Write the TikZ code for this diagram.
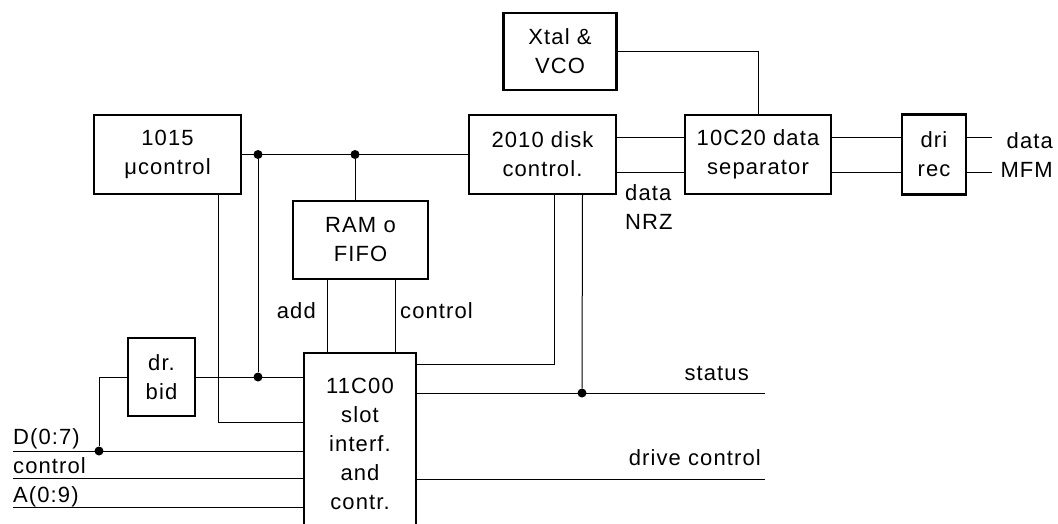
\documentclass[tikz,border=0pt]{standalone}
\usepackage{fontspec}
\setmainfont{Liberation Sans}[LetterSpace=5]
\usetikzlibrary{positioning}

\begin{document}
\begin{tikzpicture}[
    x=1pt, y=-1pt,
    every node/.style={font=\fontsize{22}{29}\selectfont, align=center},
    chip_box/.style={draw, line width=2.2pt, inner sep=0pt, outer sep=0pt},
    wire/.style={line width=1pt},
    bus_dot/.style={circle, fill, inner sep=0pt, minimum size=9pt},
    pin_lbl/.style={inner sep=0pt}
]
  \useasboundingbox (0,0) rectangle (1058,523);
  \clip (0,0) rectangle (1058,523);

  % Chips
  \node[chip_box, minimum width=147pt, minimum height=79pt] (ucontrol) at (167.5,154.5) {1015\\μcontrol};
  \node[chip_box, minimum width=147pt, minimum height=79pt, right=228pt of ucontrol] (diskctl) {2010 disk\\control.};
  \node[chip_box, minimum width=113pt, minimum height=77pt, above=25pt of diskctl, xshift=17.5pt] (xtal) {Xtal \&\\VCO};
  \node[chip_box, minimum width=146pt, minimum height=79pt, right=69pt of diskctl] (separator) {10C20 data\\separator};
  \node[chip_box, minimum width=64pt, minimum height=80pt, right=71pt of separator] (drirec) {dri\\rec};
  \node[chip_box, minimum width=135pt, minimum height=78pt] (ramfifo) at (360.5,240) {RAM o\\FIFO};
  \node[chip_box, minimum width=112pt, minimum height=181pt, below=74pt of ramfifo, xshift=-0.5pt] (slot) {11C00\\slot\\interf.\\and\\contr.};
  \node[chip_box, minimum width=67pt, minimum height=78pt] (drbid) at (161.5,377) {dr.\\bid};

  % Junctions and free ends
  \node[bus_dot] (j1) at (258,154.5) {};
  \node[bus_dot] (j2) at (355,154.5) {};
  \node[bus_dot] (j3) at (258,377) {};
  \node[bus_dot] (j4) at (99,451) {};
  \node[bus_dot] (j5) at (582,393) {};
  \coordinate (dIn) at (13,451);
  \coordinate (ctlIn) at (13,478);
  \coordinate (aIn) at (13,507);
  \coordinate (statOut) at (765,393);
  \coordinate (drvOut) at (765,479);
  \coordinate (dataOut) at (992,137);
  \coordinate (mfmOut) at (992,172);

  % Wires
  \draw[wire] (ucontrol) -- (diskctl);
  \draw[wire] (j2) -- (j2 |- ramfifo.north);
  \draw[wire] (j1) -- (j3);
  \draw[wire] (drbid) -- (drbid -| slot.west);
  \draw[wire] (drbid.west) -| (j4);
  \draw[wire] (dIn) -- (dIn -| slot.west);
  \draw[wire] (ctlIn) -- (ctlIn -| slot.west);
  \draw[wire] (aIn) -- (aIn -| slot.west);
  \draw[wire] ([xshift=50.5pt]ucontrol.south) |- ([yshift=21.5pt]slot.west);
  \draw[wire] ([xshift=-33.5pt]ramfifo.south) -- ([xshift=-33.5pt]ramfifo.south |- slot.north);
  \draw[wire] ([xshift=34.5pt]ramfifo.south) -- ([xshift=34.5pt]ramfifo.south |- slot.north);
  \draw[wire] ([xshift=12pt]diskctl.south) |- ([yshift=79.5pt]slot.east);
  \draw[wire] ([xshift=40pt]diskctl.south) -- (j5);
  \draw[wire] (j5 -| slot.east) -- (statOut);
  \draw[wire] (drvOut -| slot.east) -- (drvOut);
  \draw[wire] ([yshift=17.5pt]diskctl.east) -- ([yshift=17.5pt]separator.west);
  \draw[wire] ([yshift=-17.5pt]diskctl.east) -- ([yshift=-17.5pt]separator.west);
  \draw[wire] ([yshift=17.5pt]separator.east) -- ([yshift=17.5pt]drirec.west);
  \draw[wire] ([yshift=-17.5pt]separator.east) -- ([yshift=-17.5pt]drirec.west);
  \draw[wire] ([yshift=17.5pt]drirec.east) -- (dataOut);
  \draw[wire] ([yshift=-17.5pt]drirec.east) -- (mfmOut);
  \draw[wire] (xtal) -| (separator);

  % Labels
  \node[pin_lbl, anchor=base west] (lblD) at (13,444) {D(0:7)};
  \node[pin_lbl, anchor=base west] (lblCtl) at (13,473) {control};
  \node[pin_lbl, anchor=base west] (lblA) at (13,502) {A(0:9)};
  \node[pin_lbl, anchor=base east] (lblAdd) at (316,318) {add};
  \node[pin_lbl, anchor=base west] (lblRamCtl) at (400,318) {control};
  \node[pin_lbl, anchor=base east] (lblStat) at (749,380) {status};
  \node[pin_lbl, anchor=base east] (lblDrv) at (761,465) {drive control};
  \node[pin_lbl, anchor=base west, align=left] (lblNrz) at (625,229) {data\\NRZ};
  \node[pin_lbl, anchor=base east, align=right] (lblMfm) at (1053,177) {data\\MFM};

\end{tikzpicture}
\end{document}
